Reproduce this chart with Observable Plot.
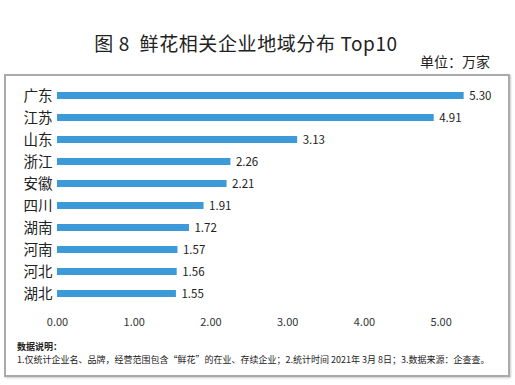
<!DOCTYPE html>
<html><head><meta charset="utf-8">
<script src="https://cdn.jsdelivr.net/npm/d3@7"></script>
<script src="https://cdn.jsdelivr.net/npm/@observablehq/plot@0.6"></script>
<style>
body{margin:0;background:#fff;font-family:"Noto Sans CJK SC","Noto Sans",sans-serif;}
#wrap{position:relative;width:515px;height:385px;overflow:hidden;}
#title{position:absolute;left:0;width:492px;top:30px;text-align:center;font-size:19px;letter-spacing:0.6px;color:#222;line-height:26px;white-space:pre;}
#unit{position:absolute;left:420px;top:51px;font-size:14px;color:#222;line-height:20px;}
#box{position:absolute;left:4px;top:74px;width:502px;height:299px;border:2px solid #aaa;box-shadow:1px 1px 2px #ccc;}
#chart{position:absolute;left:0;top:0;}
#note{position:absolute;left:11px;top:264px;font-size:9px;line-height:13px;color:#222;white-space:nowrap;}
</style></head>
<body><div id="wrap">
<div id="title">图 8  鲜花相关企业地域分布 Top10</div>
<div id="unit">单位：万家</div>
<div id="box"><div id="chart"></div>
<div id="note"><b>数据说明：</b><br>1.仅统计企业名、品牌，经营范围包含“鲜花”的在业、存续企业；2.统计时间 2021年 3月 8日；3.数据来源：企查查。</div>
</div>
</div>
<script>
const regions = ["广东","江苏","山东","浙江","安徽","四川","湖南","河南","河北","湖北"];
const values = [5.30,4.91,3.13,2.26,2.21,1.91,1.72,1.57,1.56,1.55];
const xTicks = [0,1,2,3,4,5];
const data = regions.map((r,i)=>({region:r,value:values[i]}));
const chart = Plot.plot({
  width:502, height:262,
  marginLeft:51, marginRight:29, marginTop:8, marginBottom:32,
  style:{fontFamily:'"Noto Sans CJK SC","Noto Sans",sans-serif', background:"transparent"},
  x:{domain:[0,5.5], ticks:xTicks},
  y:{domain:regions, paddingInner:0.66, paddingOuter:0.3},
  marks:[
    Plot.barX(data,{x:"value",y:"region",fill:"#3c9ad9"}),
    Plot.text(data,{x:"value",y:"region",text:d=>d.value.toFixed(2),textAnchor:"start",dx:5,fontSize:11.5,fill:"#222"}),
    Plot.axisX({ticks:xTicks,tickSize:0,tickPadding:12,tickFormat:d=>d.toFixed(2),fontSize:11,color:"#333",label:null,style:{letterSpacing:"0.6px"}}),
    Plot.axisY({tickSize:0,tickPadding:5,fontSize:14.5,color:"#222",label:null})
  ]
});
document.getElementById("chart").appendChild(chart);
</script>
</body></html>
